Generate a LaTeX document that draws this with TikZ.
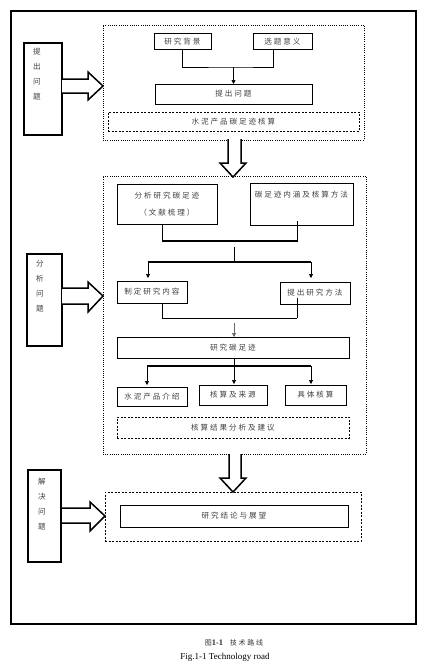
\documentclass[tikz,border=0pt]{standalone}
\usepackage{fontspec}
\setmainfont{Liberation Serif}
\newfontfamily\cjk[LetterSpace=25]{Noto Sans CJK SC}
\usetikzlibrary{arrows.meta,calc}
\begin{document}
\begin{tikzpicture}[x=1pt,y=-1pt,
  every node/.style={inner sep=0pt, outer sep=0pt},
  txt/.style={font=\cjk\fontsize{7.6}{9}\selectfont, text=black!75},
  box/.style={txt, draw, line width=1pt},
  tbox/.style={txt, draw, line width=0.6pt},
  sidebox/.style={draw, line width=2pt},
  sidetxt/.style={font=\cjk\fontsize{7.6}{15}\selectfont, text=black!75, align=center, anchor=north},
  dotbox/.style={draw, line width=0.9pt, dash pattern=on 1pt off 1.2pt},
  dashbox/.style={txt, draw, line width=0.6pt, dash pattern=on 2pt off 1.5pt},
  bigarrow/.style={draw, line width=1.5pt, fill=white, line join=miter},
  conn/.style={line width=0.7pt},
  thick conn/.style={line width=1.4pt},
  arr/.style={line width=0.7pt, -{Triangle[length=4pt,width=4pt]}}
]
\useasboundingbox (0,0) rectangle (424,669);
% outer frame
\draw[line width=2pt] (11,11) rectangle (416,624);

% side boxes
\node[sidebox, minimum width=38, minimum height=92] (L1) at (43,89) {};
\node[sidetxt] (L1t) at (37,48) {提\\出\\问\\题};
\node[sidebox, minimum width=35, minimum height=92] (L2) at (44.5,300) {};
\node[sidetxt] (L2t) at (40,260) {分\\析\\问\\题};
\node[sidebox, minimum width=33, minimum height=92] (L3) at (44.5,516) {};
\node[sidetxt] (L3t) at (42,478) {解\\决\\问\\题};

% dotted group boxes
\node[dotbox, minimum width=261, minimum height=115] (D1) at (233.5,82.5) {};
\node[dotbox, minimum width=263, minimum height=278] (D2) at (234.5,315) {};
\node[dashbox, minimum width=256, minimum height=49] (D3) at (233,516.5) {};

% big arrows
\draw[bigarrow] (62,79) -- (88,79) -- (88,72) -- (103,86) -- (88,100) -- (88,93) -- (62,93);
\draw[bigarrow] (62,288) -- (88,288) -- (88,282) -- (103,296) -- (88,312) -- (88,304) -- (62,304);
\draw[bigarrow] (62,508) -- (90,508) -- (90,502) -- (105,516) -- (90,531) -- (90,523) -- (62,523);
\draw[bigarrow] (228,139) -- (228,163) -- (220,163) -- (233,177) -- (246,163) -- (241,163) -- (241,139);
\draw[bigarrow] (229,454) -- (229,478) -- (220,478) -- (233,492) -- (246,478) -- (241,478) -- (241,454);

% group 1
\node[box, minimum width=57, minimum height=16] (bg) at (182.5,42) {研究背景};
\node[box, minimum width=59, minimum height=16] (yy) at (282.5,42) {选题意义};
\node[box, minimum width=157, minimum height=20] (tc) at (233.5,94) {提出问题};
\node[dashbox, minimum width=251, minimum height=19] (sn) at (233.5,121.5) {水泥产品碳足迹核算};
\coordinate (j1) at (233.5,67);
\draw[conn] (bg.south) |- (j1) -| ($(yy.south)+(-9.5,0)$);
\draw[arr] (j1) -- (tc.north);

% group 2
\node[box, minimum width=100, minimum height=40, align=center, font=\cjk\fontsize{7.6}{17}\selectfont] (fx) at (167,204) {分析研究碳足迹\\（文献梳理）};
\node[tbox, minimum width=103, minimum height=42] (nh) at (301.5,204) {\raisebox{20pt}{碳足迹内涵及核算方法}};
\draw[conn] ($(fx.south)+(-5,0)$) -- ++(0,17);
\draw[conn] ($(nh.south)+(-4.5,-4)$) -- ++(0,21);
\draw[thick conn] (162,241) -- (297,241);
\coordinate (j3a) at (234,247);
\coordinate (j3) at (234,262);
\draw[conn] (j3a) -- (j3);
\draw[thick conn] (148,262) -- (311,262);
\node[box, minimum width=70, minimum height=22] (zd) at (152,292) {制定研究内容};
\node[box, minimum width=70, minimum height=22] (tf) at (315,293) {提出研究方法};
\draw[arr] (148,262) -- (148,278);
\draw[arr] (311,262) -- (311,278);
\draw[conn] ($(zd.south)+(10,0)$) |- (297,318);
\draw[conn] ($(tf.south)+(-18,-6)$) -- (297,318);
\node[box, minimum width=232, minimum height=21] (yj) at (233,347.5) {研究碳足迹};
\coordinate (j4) at (234,323);
\draw[arr, black!60] (j4) -- (yj.north -| j4);
\node[box, minimum width=70, minimum height=19] (sj) at (152,396.5) {水泥产品介绍};
\node[box, minimum width=68, minimum height=20] (hs) at (233,395) {核算及来源};
\node[box, minimum width=61, minimum height=20] (jt) at (315.5,395) {具体核算};
\draw[arr] (yj.south -| 234,0) -- (234,384);
\draw[thick conn] (147,366) -- (311,366);
\draw[arr] (147,366) -- (147,385);
\draw[arr] (311,366) -- (311,384);
\node[dashbox, minimum width=232, minimum height=21] (hj) at (233,427.5) {核算结果分析及建议};

% group 3
\node[box, minimum width=228, minimum height=22] (jl) at (234,516) {研究结论与展望};

% caption
\node[font=\cjk\fontsize{7}{8}\selectfont, text=black!80] (cap1) at (234,643) {图{\rmfamily\bfseries\fontsize{8.5}{9}\selectfont 1-1}\ \ 技术路线};
\node[font=\fontsize{9}{10}\selectfont] (cap2) at (225,657) {Fig.1-1 Technology road};
\end{tikzpicture}
\end{document}
